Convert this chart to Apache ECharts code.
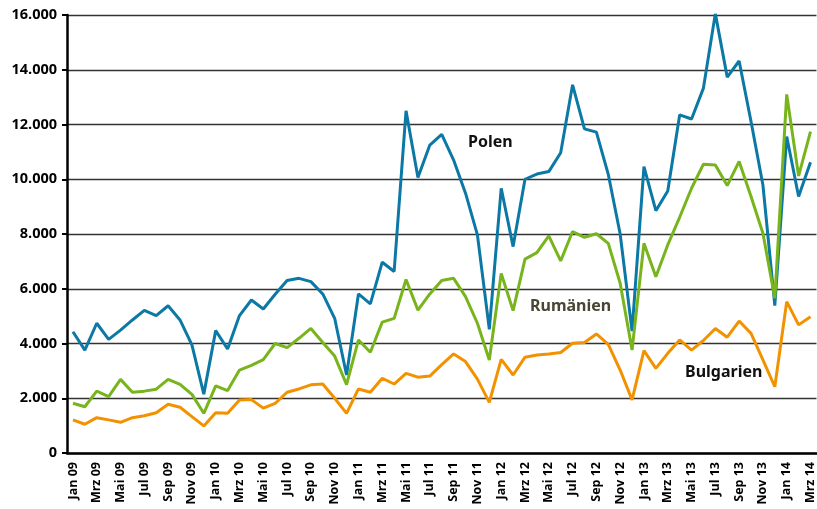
<!DOCTYPE html>
<html>
<head>
<meta charset="utf-8">
<style>
  html, body { margin: 0; padding: 0; background: #fff; }
  #main { width: 817px; height: 509px; }
</style>
<script src="https://cdn.jsdelivr.net/npm/echarts@6/dist/echarts.min.js"></script>
</head>
<body>
<div id="main"></div>
<script>
// Monate Jan 09 bis Mrz 14
var monate = ['Jan', 'Feb', 'Mrz', 'Apr', 'Mai', 'Jun', 'Jul', 'Aug', 'Sep', 'Okt', 'Nov', 'Dez'];
var jahre = ['09', '10', '11', '12', '13', '14'];
var kategorien = [];
jahre.forEach(function (j) {
    monate.forEach(function (m) {
        kategorien.push(m + ' ' + j);
    });
});
kategorien = kategorien.slice(0, 63);

var polen = [4430, 3760, 4740, 4150, 4490, 4860, 5210, 5020, 5380, 4860, 3950, 2150,
    4470, 3800, 5020, 5590, 5260, 5800, 6300, 6380, 6260, 5810, 4920, 2850,
    5810, 5450, 6970, 6630, 12500, 10060, 11250, 11640, 10700, 9490, 7970, 4520,
    9670, 7540, 10000, 10190, 10280, 10970, 13450, 11840, 11720, 10180, 8000, 4450,
    10460, 8850, 9570, 12350, 12200, 13330, 16050, 13730, 14320, 12110, 9790, 5380,
    11560, 9370, 10620];

var rumaenien = [1815, 1690, 2260, 2060, 2690, 2220, 2260, 2330, 2690, 2510, 2140, 1450,
    2450, 2280, 3030, 3200, 3410, 4000, 3850, 4190, 4550, 4040, 3540, 2500,
    4130, 3680, 4780, 4920, 6340, 5220, 5810, 6300, 6380, 5710, 4740, 3400,
    6560, 5200, 7080, 7320, 7930, 7020, 8090, 7880, 8010, 7660, 6200, 3760,
    7660, 6440, 7600, 8610, 9670, 10550, 10520, 9770, 10650, 9370, 8030, 5650,
    13100, 10120, 11740];

var bulgarien = [1210, 1050, 1290, 1210, 1120, 1290, 1360, 1470, 1780, 1670, 1330, 990,
    1470, 1450, 1940, 1950, 1640, 1815, 2220, 2340, 2490, 2520, 2000, 1450,
    2340, 2220, 2730, 2520, 2910, 2770, 2810, 3230, 3620, 3340, 2700, 1850,
    3420, 2850, 3500, 3580, 3620, 3670, 4010, 4040, 4350, 3970, 3030, 1940,
    3740, 3090, 3640, 4130, 3760, 4110, 4550, 4230, 4820, 4370, 3400, 2420,
    5530, 4680, 4980];

var achsenSchrift = '"Open Sans", sans-serif';
var textSchrift = '"Noto Sans", sans-serif';

var myChart = echarts.init(document.getElementById('main'));
myChart.setOption({
    animation: false,
    backgroundColor: '#fff',
    grid: { left: 67, right: 0, top: 15, bottom: 56 },
    xAxis: {
        type: 'category',
        data: kategorien,
        boundaryGap: true,
        axisLine: { lineStyle: { color: '#000', width: 2.5 } },
        axisTick: { interval: 1, length: 5, lineStyle: { color: '#000', width: 2 } },
        axisLabel: {
            interval: 1,
            rotate: 90,
            margin: 9,
            color: '#000',
            fontFamily: achsenSchrift,
            fontWeight: 'bold',
            fontSize: 12.5
        },
        splitLine: { show: false }
    },
    yAxis: {
        type: 'value',
        min: 0,
        max: 16000,
        interval: 2000,
        axisLine: { show: true, lineStyle: { color: '#000', width: 2.5 } },
        axisTick: { show: true, length: 5, lineStyle: { color: '#000', width: 2 } },
        axisLabel: {
            margin: 10,
            color: '#000',
            fontFamily: achsenSchrift,
            fontWeight: 'bold',
            fontSize: 14.5,
            formatter: function (v) {
                return String(v).replace(/\B(?=(\d{3})+(?!\d))/g, '.');
            }
        },
        splitLine: { lineStyle: { color: '#333', width: 1.3 } }
    },
    series: [
        {
            name: 'Polen',
            type: 'line',
            data: polen,
            symbol: 'none',
            lineStyle: { color: '#0b78a5', width: 3 },
            z: 3
        },
        {
            name: 'Rumänien',
            type: 'line',
            data: rumaenien,
            symbol: 'none',
            lineStyle: { color: '#78b41c', width: 3 },
            z: 4
        },
        {
            name: 'Bulgarien',
            type: 'line',
            data: bulgarien,
            symbol: 'none',
            lineStyle: { color: '#f39200', width: 3 },
            z: 5
        }
    ],
    graphic: [
        { type: 'text', left: 468, top: 134, style: { text: 'Polen', fill: '#111', font: 'bold 16px ' + textSchrift } },
        { type: 'text', left: 530, top: 298, style: { text: 'Rumänien', fill: '#4a4634', font: 'bold 16px ' + textSchrift } },
        { type: 'text', left: 685, top: 364, style: { text: 'Bulgarien', fill: '#111', font: 'bold 16px ' + textSchrift } }
    ]
});
</script>
</body>
</html>
